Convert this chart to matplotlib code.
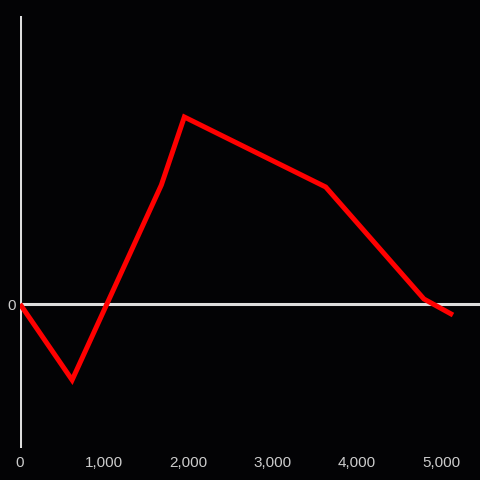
import matplotlib
matplotlib.use('Agg')
import matplotlib.pyplot as plt
from matplotlib.ticker import FuncFormatter

# данные
x_values = [0, 619, 1679, 1952, 3631, 4798, 5143]
y_values = [0, -76, 119, 187, 117, 5, -11]
x_ticks = [0, 1000, 2000, 3000, 4000, 5000]
y_ticks = [0]

bg = '#030305'
axis_color = '#dddddd'
text_color = '#cccccc'

plt.rcParams['font.family'] = ['Liberation Sans', 'DejaVu Sans']

fig = plt.figure(figsize=(4.8, 4.8), dpi=100, facecolor=bg)
ax = fig.add_axes([20 / 480, 32 / 480, 460 / 480, 432 / 480], facecolor=bg)

ax.set_xlim(0, 5464)
ax.set_ylim(-144, 288)

# оси через ноль
ax.axhline(0, color=axis_color, linewidth=2.2, zorder=1)
ax.axvline(0, color=axis_color, linewidth=2.2, zorder=1)

ax.plot(x_values, y_values, color='#ff0000', linewidth=3.6,
        solid_joinstyle='miter', solid_capstyle='butt', zorder=3)

for s in ax.spines.values():
    s.set_visible(False)

ax.set_xticks(x_ticks)
ax.set_yticks(y_ticks)
ax.xaxis.set_major_formatter(FuncFormatter(lambda v, p: f'{int(v):,}'))
ax.tick_params(axis='both', length=0, colors=text_color, labelsize=11)
ax.tick_params(axis='x', pad=6)
ax.tick_params(axis='y', pad=3)

fig.savefig('out.png', dpi=100, facecolor=bg)
